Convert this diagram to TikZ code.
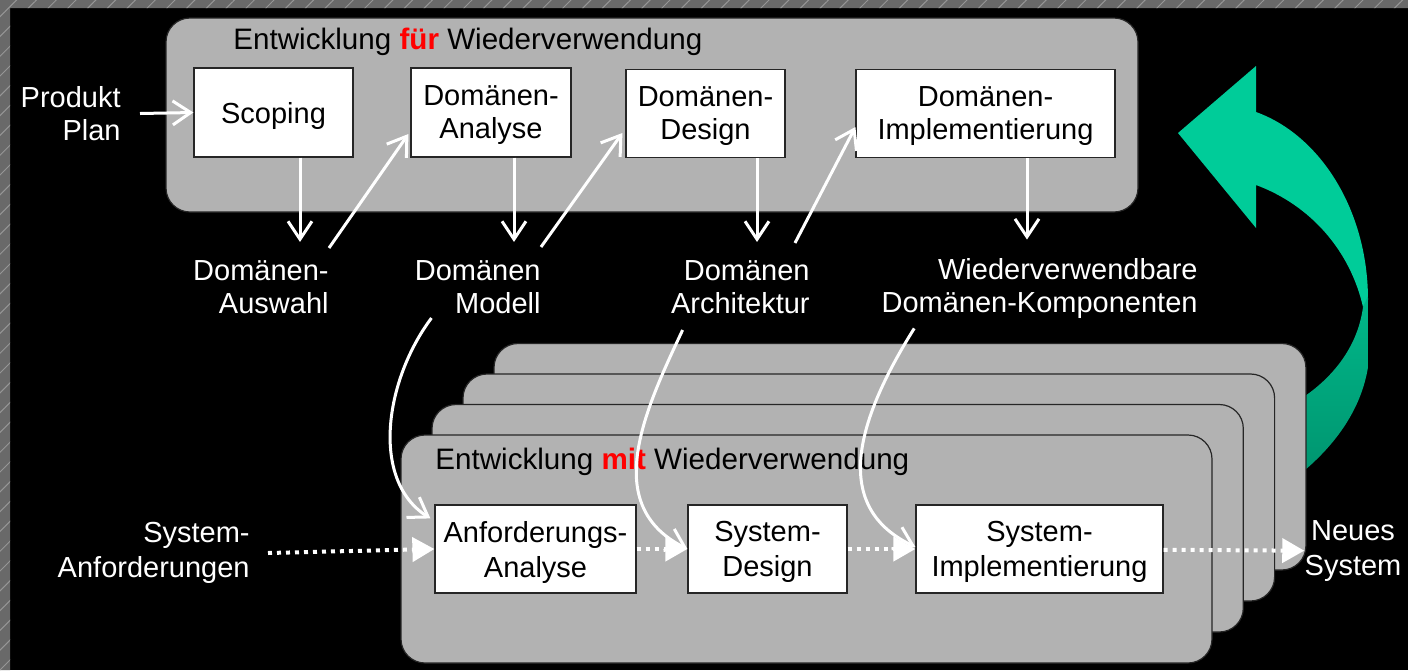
\documentclass[tikz,border=0pt]{standalone}
\usepackage{fontspec}
\setmainfont{Liberation Sans}
\usetikzlibrary{arrows.meta,patterns.meta}

\definecolor{panelgray}{RGB}{178,178,178}
\definecolor{framegray}{RGB}{105,105,105}
\definecolor{hatchgray}{RGB}{150,150,150}
\definecolor{arrowgreen}{RGB}{0,204,153}
\definecolor{arrowgreendark}{RGB}{0,150,112}
\definecolor{titlered}{RGB}{255,0,0}

\begin{document}
\begin{tikzpicture}[x=0.5pt,y=-0.5pt,>={Straight Barb[length=9pt,width=12pt]},
    font=\fontsize{14.5}{16.5}\selectfont,
    panel/.style={fill=panelgray,draw=black!85,line width=0.6pt,rounded corners=12pt},
    box node/.style={rectangle,draw=black!85,fill=white,line width=0.6pt,align=center,inner sep=0pt,text depth=0pt},
    white label/.style={text=white,align=right,inner sep=0pt,anchor=east},
    low row/.style={font=\fontsize{14.5}{17.5}\selectfont},
    title node/.style={anchor=west,inner sep=0pt,font=\fontsize{14.8}{16.5}\selectfont},
    arr/.style={->,white,line width=1.5pt},
    dotarr/.style={-{Triangle[length=11pt,width=12pt]},white,line width=2pt,dash pattern=on 2pt off 2.5pt}]
    \useasboundingbox (0,0) rectangle (1408,670);
    \fill[black] (0,0) rectangle (1408,670);
    % hatched frame
    \fill[framegray] (0,0) rectangle (1408,8) (0,8) rectangle (10,670);
    \fill[pattern={Lines[angle=45,distance=7pt,line width=0.5pt]},pattern color=hatchgray]
    (0,0) rectangle (1408,8) (0,8) rectangle (10,670);
    % green arrow
    \fill[arrowgreen] (1178,133) -- (1256,66) -- (1256,112) .. controls (1320,135) and (1368,210) .. (1368,300)
    -- (1363,307) .. controls (1350,250) and (1310,205) .. (1256,185) -- (1256,228) -- cycle;
    \shade[top color=arrowgreen!90!black,bottom color=arrowgreendark] (1368,296) -- (1368,367)
    .. controls (1362,405) and (1340,440) .. (1305,470) -- (1305,396)
    .. controls (1335,375) and (1358,345) .. (1363,307) -- cycle;
    % panels
    \draw[panel] (166,18) rectangle (1138,212);
    \foreach \i in {3,2,1,0}
    \draw[panel] ({401+31*\i},{435-30.5*\i}) rectangle ({1212+31.3*\i},{663-31*\i});
    \node[title node] (titlefor) at (233,42) {Entwicklung \textcolor{titlered}{\textbf{für}} Wiederverwendung};
    \node[title node] (titlemit) at (435,462) {Entwicklung \textcolor{titlered}{\textbf{mit}} Wiederverwendung};
    % boxes
    \node[box node,minimum width=79.5pt,minimum height=44.5pt] (scoping) at (273.5,112.5) {Scoping};
    \node[box node,minimum width=80pt,minimum height=44.5pt] (danalyse) at (491,112.5) {Domänen-\\Analyse};
    \node[box node,minimum width=79.5pt,minimum height=44pt] (ddesign) at (705.5,113.5) {Domänen-\\Design};
    \node[box node,minimum width=129.5pt,minimum height=44pt] (dimpl) at (985.5,113.5) {Domänen-\\Implementierung};
    \node[box node,low row,minimum width=100.5pt,minimum height=44pt] (anfana) at (535.5,549) {Anforderungs-\\Analyse};
    \node[box node,low row,minimum width=79.5pt,minimum height=44pt] (sysdes) at (767.5,549) {System-\\Design};
    \node[box node,low row,minimum width=123.5pt,minimum height=44pt] (sysimp) at (1039.5,549) {System-\\Implementierung};
    % labels
    \node[white label] (plan) at (121,113.5) {Produkt\\Plan};
    \node[white label] (auswahl) at (329,287) {Domänen-\\Auswahl};
    \node[white label] (modell) at (541,287) {Domänen\\Modell};
    \node[white label] (archi) at (810,287) {Domänen\\Architektur};
    \node[white label] (komp) at (1198,288) {Wiederverwendbare\\Domänen-Komponenten};
    \node[white label,low row] (sysanf) at (250,553) {System-\\Anforderungen};
    \node[white label,low row,anchor=center,align=center] (neu) at (1353,551) {Neues\\System};
    % arrows
    \draw[arr] ([xshift=9.5pt]plan.east) -- (scoping.west);
    \foreach \a/\b/\s in {scoping/auswahl/13.25,danalyse/modell/11.5,ddesign/archi/25.75,dimpl/komp/20.75}
    \draw[arr] ([xshift=\s pt]\a.south) -- ([xshift=\s pt,yshift=9pt]\a.south |- \b.north);
    \draw[arr] ([yshift=6pt]auswahl.north east) -- ([xshift=-1pt,yshift=-10.75pt]danalyse.west);
    \draw[arr] ([yshift=6.5pt]modell.north east) -- ([xshift=-1.5pt,yshift=-9.75pt]ddesign.west);
    \draw[arr] ([xshift=-7.5pt,yshift=8.5pt]archi.north east) -- ([yshift=-6.75pt]dimpl.west);
    \draw[arr] ([xshift=8.5pt,yshift=-2pt]modell.south west) .. controls (385,380) and (370,480) .. ([xshift=-2pt,yshift=-7pt]anfana.north west);
    \draw[arr] ([xshift=6pt,yshift=-8pt]archi.south west) .. controls (645,410) and (600,505) .. (sysdes.west);
    \draw[arr] ([xshift=16.5pt,yshift=-5pt]komp.south west) .. controls (860,415) and (828,505) .. ([yshift=1pt]sysimp.west);
    \draw[dotarr] ([xshift=9pt]sysanf.east) -- (anfana.west);
    \draw[dotarr] (anfana) -- (sysdes);
    \draw[dotarr] (sysdes) -- (sysimp);
    \draw[dotarr] (sysimp) -- (neu);
\end{tikzpicture}
\end{document}
